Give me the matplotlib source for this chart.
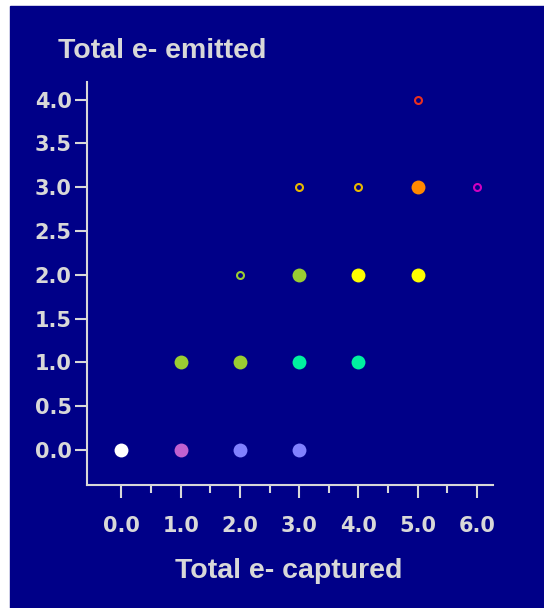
import matplotlib.pyplot as plt
from matplotlib.patches import Rectangle
from matplotlib.ticker import MultipleLocator, FixedLocator

# electrons captured (x) vs emitted (y)
captured = [0, 1, 2, 3, 1, 2, 3, 4, 2, 3, 4, 5, 3, 4, 5, 6, 5]
emitted = [0, 0, 0, 0, 1, 1, 1, 1, 2, 2, 2, 2, 3, 3, 3, 3, 4]
colors = ['#ffffff', '#c060d0', '#8080ff', '#8080ff',
          '#9acd32', '#9acd32', '#00f0a0', '#00f0a0',
          '#9acd32', '#9acd32', '#ffff00', '#ffff00',
          '#e8b800', '#e8b800', '#ff8800', '#d000c0', '#e83020']
filled = [True, True, True, True,
          True, True, True, True,
          False, True, True, True,
          False, False, True, False, False]
minor_x = [0.5, 1.5, 2.5, 3.5, 4.5, 5.5]

bg = '#000088'
fg = '#d8d8d8'

fig = plt.figure(figsize=(5.44, 6.08), dpi=100, facecolor='white')
fig.patches.append(Rectangle((10 / 544, 0), 1, (608 - 6) / 608,
                             transform=fig.transFigure, color=bg, zorder=-1))

ax = fig.add_axes([87 / 544, (608 - 485) / 608, (493 - 87) / 544, (485 - 82) / 608])
ax.set_facecolor(bg)

for x, y, c, f in zip(captured, emitted, colors, filled):
    if f:
        ax.plot(x, y, 'o', color=c, markersize=10, markeredgewidth=0)
    else:
        ax.plot(x, y, 'o', markerfacecolor='none', markeredgecolor=c,
                markersize=5, markeredgewidth=1.5)

ax.set_xlim(-0.58, 6.27)
ax.set_ylim(-0.4, 4.2)
ax.xaxis.set_major_locator(MultipleLocator(1))
ax.xaxis.set_minor_locator(FixedLocator(minor_x))
ax.yaxis.set_major_locator(MultipleLocator(0.5))
ax.xaxis.set_major_formatter(lambda v, p: f'{v:.1f}')
ax.yaxis.set_major_formatter(lambda v, p: f'{v:.1f}')

for s in ['top', 'right']:
    ax.spines[s].set_visible(False)
for s in ['left', 'bottom']:
    ax.spines[s].set_color(fg)
    ax.spines[s].set_linewidth(1.5)

ax.tick_params(axis='x', which='major', length=9.5, width=1.5, color=fg,
               labelcolor=fg, labelsize=15, pad=13)
ax.tick_params(axis='x', which='minor', length=6, width=1.5, color=fg)
ax.tick_params(axis='y', which='major', length=9, width=1.5, color=fg,
               labelcolor=fg, labelsize=15, pad=2)
for lab in ax.get_xticklabels() + ax.get_yticklabels():
    lab.set_fontweight('bold')

fig.text(58 / 544, 1 - 58 / 608, 'Total e- emitted', color=fg, fontsize=20.5,
         family='Liberation Sans', fontweight='bold', ha='left', va='baseline')
fig.text(289 / 544, 1 - 578 / 608, 'Total e- captured', color=fg, fontsize=20.5,
         family='Liberation Sans', fontweight='bold', ha='center', va='baseline')

plt.savefig('out.png', dpi=100, facecolor=fig.get_facecolor())
